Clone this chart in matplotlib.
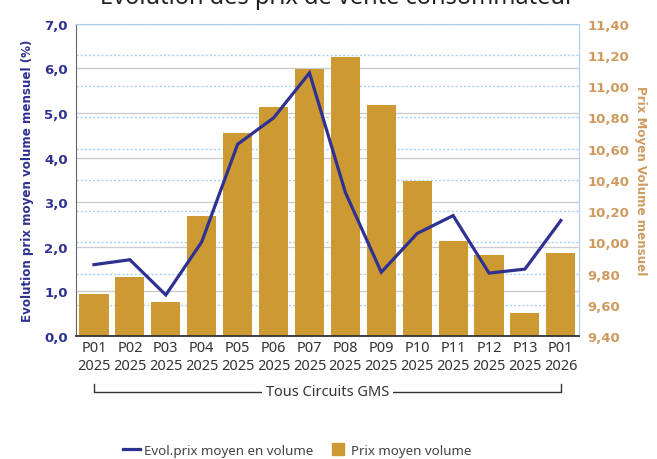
import matplotlib
matplotlib.use("Agg")
import matplotlib.pyplot as plt
from matplotlib.lines import Line2D
from matplotlib.ticker import FuncFormatter

periodes = ["P01\n2025", "P02\n2025", "P03\n2025", "P04\n2025", "P05\n2025",
            "P06\n2025", "P07\n2025", "P08\n2025", "P09\n2025", "P10\n2025",
            "P11\n2025", "P12\n2025", "P13\n2025", "P01\n2026"]
evol_prix = [1.60, 1.71, 0.92, 2.11, 4.30, 4.89, 5.90, 3.22, 1.43, 2.30,
             2.70, 1.41, 1.50, 2.59]
prix_moyen = [9.67, 9.78, 9.62, 10.17, 10.70, 10.87, 11.11, 11.19, 10.88,
              10.39, 10.01, 9.92, 9.55, 9.93]
left_ticks = [0, 1, 2, 3, 4, 5, 6, 7]
right_ticks = [9.4, 9.6, 9.8, 10.0, 10.2, 10.4, 10.6, 10.8, 11.0, 11.2, 11.4]

BLEU = "#2e3192"
OR = "#cc9933"
TAN = "#d09a5e"
GRIS = "#333333"

fig = plt.figure(figsize=(6.57, 4.6), dpi=100)
rect = [0.1157, 0.2674, 0.7653, 0.6786]

# bottom layer: left scale, solid grey grid
ax = fig.add_axes(rect)
x = range(len(periodes))
ax.set_xlim(-0.5, len(periodes) - 0.5)
ax.set_ylim(0, 7)
ax.set_yticks(left_ticks)
ax.yaxis.grid(True, color="#cccccc", linewidth=1.0)
ax.set_axisbelow(True)
ax.yaxis.set_major_formatter(FuncFormatter(lambda v, p: f"{v:.1f}".replace(".", ",")))
ax.tick_params(axis="y", length=0, pad=6, labelcolor=BLEU, labelsize=9.5)
for lab in ax.get_yticklabels():
    lab.set_fontweight("bold")
ax.set_ylabel("Evolution prix moyen volume mensuel (%)", color=BLEU,
              fontsize=8.6, fontweight="bold", labelpad=7)
ax.set_xticks(list(x))
ax.set_xticklabels(periodes, fontsize=10.5, color=GRIS, family="Noto Sans",
                   linespacing=1.25)
ax.tick_params(axis="x", length=0, pad=3)
for s in ax.spines.values():
    s.set_visible(False)

# middle layer: right scale, bars + dotted grid
ax2 = ax.twinx()
ax2.bar(list(x), prix_moyen, width=0.81, color=OR, zorder=2)
ax2.set_ylim(9.4, 11.4)
ax2.set_yticks(right_ticks)
ax2.yaxis.grid(True, color="#a9cdf0", linestyle=(0, (1.5, 1.5)), linewidth=1.0)
ax2.set_axisbelow(True)
ax2.patch.set_visible(False)
ax2.yaxis.set_major_formatter(FuncFormatter(lambda v, p: f"{v:.2f}".replace(".", ",")))
ax2.tick_params(axis="y", length=0, pad=6, labelcolor=TAN, labelsize=9.5)
for lab in ax2.get_yticklabels():
    lab.set_fontweight("bold")
ax2.set_ylabel("Prix Moyen Volume mensuel", color=TAN, fontsize=8.6,
               fontweight="bold", rotation=270, labelpad=13)
for s in ax2.spines.values():
    s.set_visible(False)

# top layer: the line on the left scale
ax3 = ax.twinx()
ax3.set_ylim(0, 7)
ax3.plot(list(x), evol_prix, color=BLEU, linewidth=2.3, solid_joinstyle="miter")
ax3.set_yticks([])
ax3.patch.set_visible(False)
ax3.spines["left"].set_color("#666666")
ax3.spines["bottom"].set_color("#333333")
ax3.spines["bottom"].set_linewidth(1.3)
ax3.spines["top"].set_color("#a9cdf0")
ax3.spines["right"].set_color("#a9cdf0")

# bracket under the categories
tr = ax3.get_xaxis_transform()
y_line, y_top = -0.179, -0.154
ax3.add_line(Line2D([0, 0, 13, 13], [y_top, y_line, y_line, y_top],
                    transform=tr, color="#333333", linewidth=1.0,
                    clip_on=False, zorder=1))
ax3.text(6.5, y_line, "Tous Circuits GMS", transform=tr, ha="center",
         va="center", fontsize=10.5, color=GRIS, family="Noto Sans", zorder=5,
         bbox=dict(facecolor="white", edgecolor="none", pad=2.5))

# title, partly cut off at the top as in the source
fig.text(0.513, 0.992, "Evolution des prix de vente consommateur", ha="center",
         va="baseline", fontsize=17, color="#222222", family="Noto Sans")

handles = [Line2D([], [], color=BLEU, linewidth=2.3),
           Line2D([], [], color=OR, marker="s", linestyle="None", markersize=8)]
fig.legend(handles, ["Evol.prix moyen en volume", "Prix moyen volume"],
           loc="center", bbox_to_anchor=(0.452, 0.019), ncol=2, frameon=False,
           prop={"family": "Noto Sans", "size": 9.6}, labelcolor="#444444",
           handlelength=1.3, handletextpad=0.3, columnspacing=1.2)

fig.savefig("out.png", dpi=100)
